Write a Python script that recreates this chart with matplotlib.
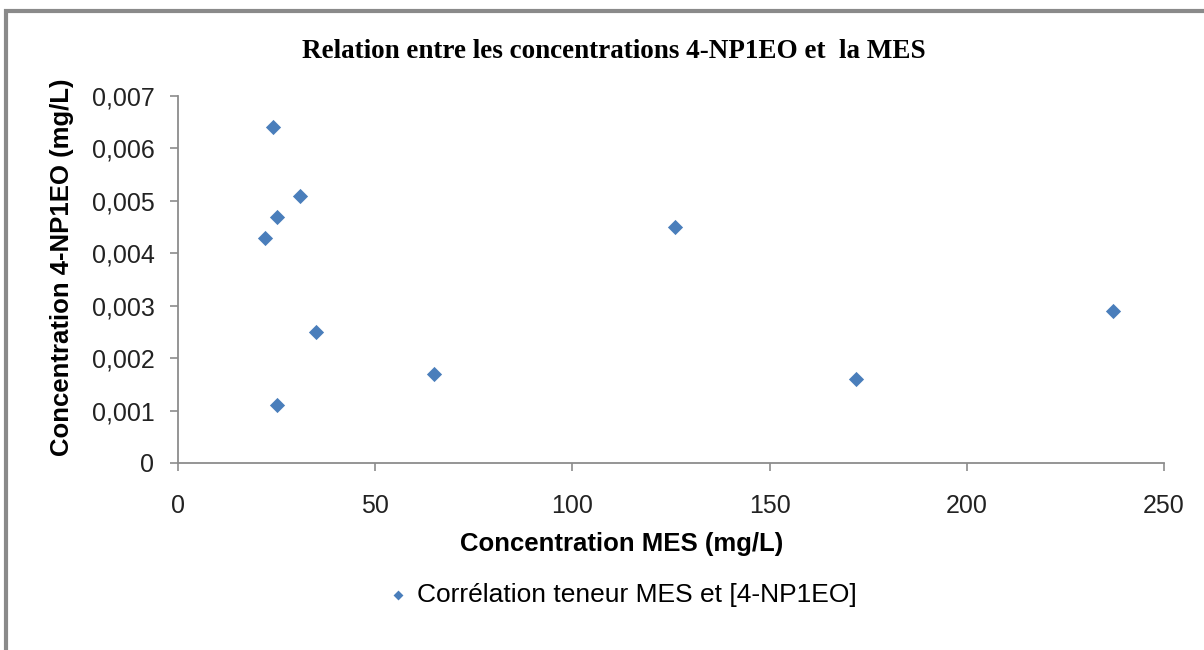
import matplotlib
matplotlib.use("Agg")
import matplotlib.pyplot as plt
from matplotlib.patches import Rectangle
from matplotlib.ticker import FuncFormatter, MultipleLocator

mes = [24, 31, 25, 22, 35, 65, 25, 126, 172, 237]
np1eo = [0.0064, 0.0051, 0.0047, 0.0043, 0.0025, 0.0017, 0.0011, 0.0045, 0.0016, 0.0029]

title = "Relation entre les concentrations 4-NP1EO et  la MES"
xlabel = "Concentration MES (mg/L)"
ylabel = "Concentration 4-NP1EO (mg/L)"
series_label = "Corrélation teneur MES et [4-NP1EO]"

plt.rcParams['font.family'] = ['Liberation Sans', 'DejaVu Sans']

fig = plt.figure(figsize=(12.04, 6.5), dpi=100)
ax = fig.add_axes([178/1204, 1-463/650, (1164-178)/1204, (463-96)/650])

ax.scatter(mes, np1eo, marker='D', s=60, color='#4a7ebb', zorder=3, label=series_label,
           linewidths=0)

ax.set_xlim(0, 250)
ax.set_ylim(0, 0.007)
ax.xaxis.set_major_locator(MultipleLocator(50))
ax.yaxis.set_major_locator(MultipleLocator(0.001))
ax.xaxis.set_major_formatter(FuncFormatter(lambda v, p: f"{v:.0f}"))
ax.yaxis.set_major_formatter(FuncFormatter(lambda v, p: "0" if abs(v) < 1e-12 else f"{v:.3f}".replace('.', ',')))

for s in ['top', 'right']:
    ax.spines[s].set_visible(False)
for s in ['left', 'bottom']:
    ax.spines[s].set_color('#8c8c8c')
    ax.spines[s].set_linewidth(1.3)
ax.tick_params(axis='both', colors='#8c8c8c', labelcolor='#222222', labelsize=18, length=6, width=1.2, direction='out')
ax.tick_params(axis='x', pad=16)
ax.tick_params(axis='y', pad=11)

ax.set_xlabel(xlabel, fontsize=18.5, fontweight='bold', va='center')
ax.set_ylabel(ylabel, fontsize=18.5, fontweight='bold', va='center')
ax.xaxis.set_label_coords((622-178)/986, (463-544)/367)
ax.yaxis.set_label_coords((62-178)/986, (463-267)/367)

fig.text(614/1204, 1-51/650, title, ha='center', va='center', fontsize=19.5, fontweight='bold',
         family=['Liberation Serif', 'DejaVu Serif'])

leg = fig.legend(loc='center', bbox_to_anchor=(622/1204, 1-595/650), frameon=False, fontsize=19,
                 handlelength=0.8, handletextpad=0.3, markerscale=0.65)

fig.patches.append(Rectangle((6/1204, -0.1), 1.2, 1-11/650+0.1, transform=fig.transFigure,
                             fill=False, edgecolor='#8a8a8a', linewidth=3, zorder=0))

fig.savefig("out.png", dpi=100)
